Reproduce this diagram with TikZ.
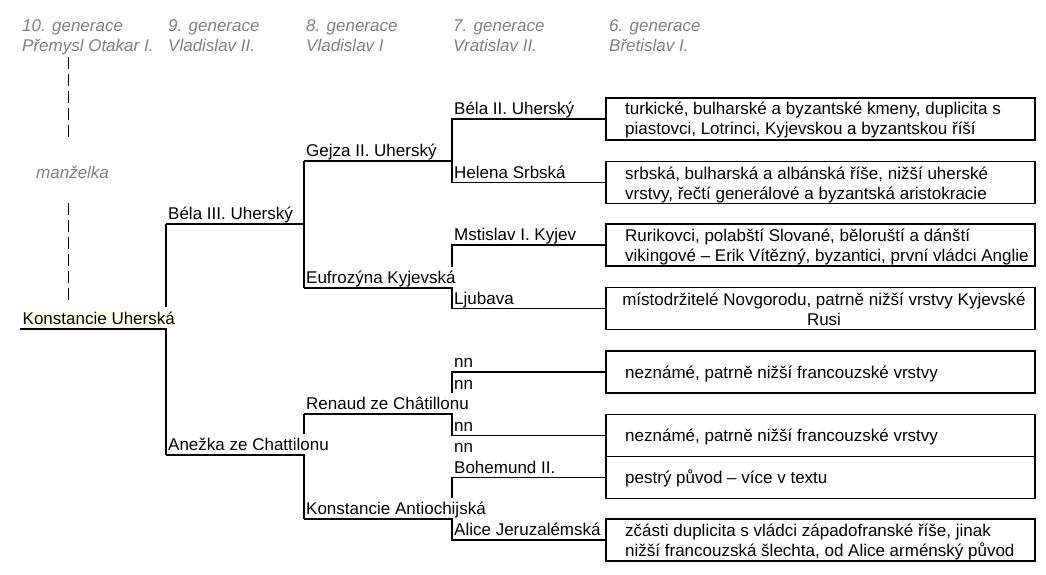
\documentclass[tikz,border=0pt]{standalone}
\usepackage{fontspec}
\setmainfont{Liberation Sans}
\definecolor{hdrgray}{RGB}{128,128,128}
\definecolor{lightyel}{RGB}{255,255,242}
\begin{document}
\begin{tikzpicture}[x=1pt,y=-1pt,
  fnt/.style={font=\fontsize{17}{20}\selectfont},
  ln/.style={line width=1.5pt, draw=black},
  lbl/.style={fnt, anchor=base west, fill=white, inner xsep=0.5pt, inner ysep=0pt, text height=16.5pt, text depth=3.5pt},
  hdr/.style={anchor=base west, text=hdrgray, font=\fontsize{17}{20}\selectfont\itshape, inner sep=0pt},
  box/.style={draw=black, line width=1.5pt, minimum width=429pt, minimum height=42pt, inner sep=0pt},
  btxt/.style={fnt, anchor=base west, inner sep=0pt},
  bctxt/.style={fnt, anchor=base, inner sep=0pt},
  dsh/.style={line width=1.5pt, draw=black, dash pattern=on 12pt off 5pt}
]
\fill[white] (0,0) rectangle (1046,575);
\useasboundingbox (0,0) rectangle (1046,575);

% headers
\node[hdr] (h10a) at (22,32) {10. generace};
\node[hdr] (h10b) at (22,52) {Přemysl Otakar I.};
\node[hdr] (h9a) at (168,32) {9. generace};
\node[hdr] (h9b) at (168,52) {Vladislav II.};
\node[hdr] (h8a) at (306,32) {8. generace};
\node[hdr] (h8b) at (306,52) {Vladislav I};
\node[hdr] (h7a) at (453,32) {7. generace};
\node[hdr] (h7b) at (453,52) {Vratislav II.};
\node[hdr] (h6a) at (609,32) {6. generace};
\node[hdr] (h6b) at (609,52) {Břetislav I.};
\node[hdr] (wife) at (36,178) {manželka};

% dashed spouse line
\coordinate (d1) at (68.5,57);
\coordinate (d2) at (68.5,140);
\coordinate (d3) at (68.5,203);
\coordinate (d4) at (68.5,305);
\draw[dsh] (d1) -- (d2);
\draw[dsh] (d3) -- (d4);

% boxes
\node[box] (B1) at (820.5,119) {};
\node[box] (B2) at (820.5,182.5) {};
\node[box] (B3) at (820.5,245) {};
\node[box] (B4) at (820.5,308.5) {};
\node[box] (B5) at (820.5,372) {};
\node[box] (B6) at (820.5,435.5) {};
\node[box] (B7) at (820.5,477.5) {};
\node[box] (B8) at (820.5,540) {};

% box texts
\node[btxt] (t1a) at (625,115) {turkické, bulharské a byzantské kmeny, duplicita s};
\node[btxt] (t1b) at (625,135) {piastovci, Lotrinci, Kyjevskou a byzantskou říší};
\node[btxt] (t2a) at (625,179) {srbská, bulharská a albánská říše, nižší uherské};
\node[btxt] (t2b) at (625,199) {vrstvy, řečtí generálové a byzantská aristokracie};
\node[btxt] (t3a) at (625,241) {Rurikovci, polabští Slované, běloruští a dánští};
\node[btxt] (t3b) at (625,261) {vikingové – Erik Vítězný, byzantici, první vládci Anglie};
\node[bctxt] (t4a) at (824,305) {místodržitelé Novgorodu, patrně nižší vrstvy Kyjevské};
\node[bctxt] (t4b) at (824,325) {Rusi};
\node[btxt] (t5) at (625,378) {neznámé, patrně nižší francouzské vrstvy};
\node[btxt] (t6) at (625,441.5) {neznámé, patrně nižší francouzské vrstvy};
\node[btxt] (t7) at (625,483.5) {pestrý původ – více v textu};
\node[btxt] (t8a) at (625,536) {zčásti duplicita s vládci západofranské říše, jinak};
\node[btxt] (t8b) at (625,556) {nižší francouzská šlechta, od Alice arménský původ};

% tree joints
\coordinate (k0) at (20,329);   \coordinate (k1) at (166,329);
\coordinate (c1a) at (166,224); \coordinate (c1b) at (304,224);
\coordinate (c1c) at (166,455); \coordinate (c1d) at (304,455);
\coordinate (g0) at (304,161);  \coordinate (g1) at (452,161);
\coordinate (e0) at (304,288);  \coordinate (e1) at (452,288);
\coordinate (r0) at (304,414);  \coordinate (r1) at (452,414);
\coordinate (a0) at (304,519);  \coordinate (a1) at (452,519);
\coordinate (p1) at (452,119);  \coordinate (p2) at (452,182.5);
\coordinate (p3) at (452,245);  \coordinate (p4) at (452,308.5);
\coordinate (p5) at (452,372);  \coordinate (p6) at (452,435.5);
\coordinate (p7) at (452,477.5);\coordinate (p8) at (452,540);

% connectors
\draw[ln] (k0) -- (k1);
\draw[ln] (c1a) -- (c1c);
\draw[ln] (c1a) -- (c1b);
\draw[ln] (c1c) -- (c1d);
\draw[ln] (g0) -- (e0);
\draw[ln] (g0) -- (g1);
\draw[ln] (e0) -- (e1);
\draw[ln] (r0) -- (a0);
\draw[ln] (r0) -- (r1);
\draw[ln] (a0) -- (a1);
\draw[ln] (B1.west) -- (p1) -- (p2) -- (B2.west);
\draw[ln] (B3.west) -- (p3) -- (p4) -- (B4.west);
\draw[ln] (B5.west) -- (p5) -- (p6) -- (B6.west);
\draw[ln] (B7.west) -- (p7) -- (p8) -- (B8.west);

% labels
\node[lbl, fill=lightyel, inner xsep=1pt, text height=17.5pt] (kon) at (21.5,324.5) {Konstancie Uherská};
\node[lbl] (bela3) at (167.5,219.5) {Béla III. Uherský};
\node[lbl] (anez) at (167.5,450.5) {Anežka ze Chattilonu};
\node[lbl] (gejza) at (305.5,156.5) {Gejza II. Uherský};
\node[lbl] (eufr) at (305.5,283.5) {Eufrozýna Kyjevská};
\node[lbl] (renaud) at (305.5,409.5) {Renaud ze Châtillonu};
\node[lbl] (konant) at (305.5,514.5) {Konstancie Antiochijská};
\node[lbl] (bela2) at (453.5,114.5) {Béla II. Uherský};
\node[lbl] (helena) at (453.5,178) {Helena Srbská};
\node[lbl] (mstis) at (453.5,240.5) {Mstislav I. Kyjev};
\node[lbl] (ljub) at (453.5,304) {Ljubava};
\node[lbl] (nn1) at (453.5,367.5) {nn};
\node[lbl] (nn2) at (453.5,389) {nn};
\node[lbl] (nn3) at (453.5,431) {nn};
\node[lbl] (nn4) at (453.5,452) {nn};
\node[lbl] (bohem) at (453.5,473) {Bohemund II.};
\node[lbl] (alice) at (453.5,535.5) {Alice Jeruzalémská};
\end{tikzpicture}
\end{document}
